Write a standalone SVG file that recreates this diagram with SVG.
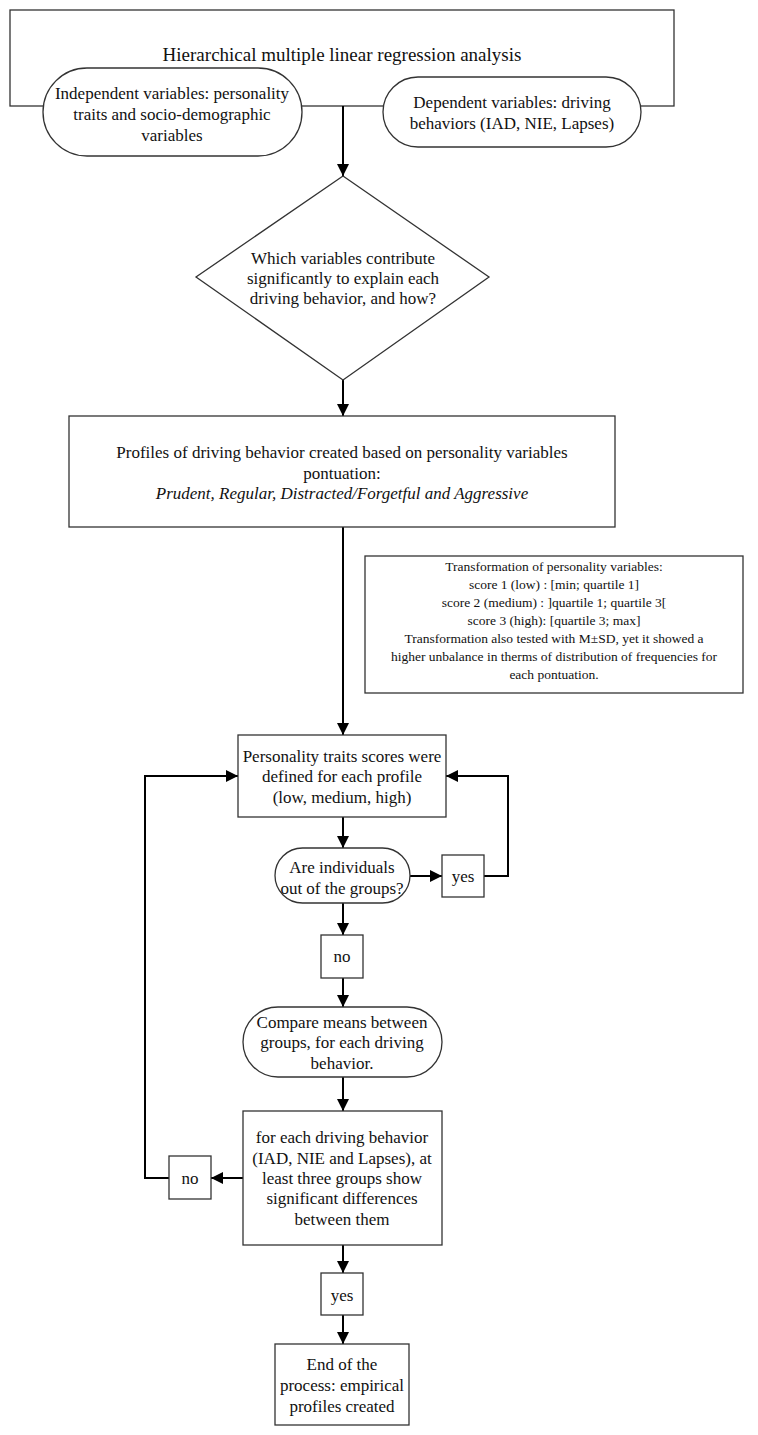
<svg xmlns="http://www.w3.org/2000/svg" width="758" height="1435" viewBox="0 0 758 1435" font-family="Liberation Serif, Times New Roman, serif">
<defs>
<marker id="ah" viewBox="0 0 12 12" refX="12" refY="6" markerWidth="12" markerHeight="12" markerUnits="userSpaceOnUse" orient="auto">
<path d="M0,0 L12,6 L0,12 Z" fill="#000"/>
</marker>
</defs>
<style>
.box{fill:#fff;stroke:#333;stroke-width:1.3}
.con{fill:none;stroke:#000;stroke-width:2}
.arr{marker-end:url(#ah)}
text{font-family:'Liberation Serif','Times New Roman',serif;fill:#111;text-anchor:middle;dominant-baseline:central}
.t15{font-size:17px}
.t16{font-size:17px}
.t17{font-size:19px}
.t13{font-size:13.5px}
.it{font-style:italic}
</style>
<rect width="758" height="1435" fill="#fff"/>
<g id="regression">
<rect class="box" x="10" y="10" width="664" height="96"/>
<text class="t17" x="342" y="54">Hierarchical multiple linear regression analysis</text>
</g>
<g id="connectors">
<line class="con arr" x1="343" y1="106" x2="343" y2="176"/>
<line class="con arr" x1="343" y1="380" x2="343" y2="416"/>
<line class="con arr" x1="343" y1="527" x2="343" y2="735"/>
<line class="con arr" x1="343" y1="817" x2="343" y2="848"/>
<line class="con arr" x1="410" y1="876" x2="442" y2="876"/>
<polyline class="con arr" points="484,876 508,876 508,776 446,776"/>
<line class="con arr" x1="343" y1="903" x2="343" y2="935"/>
<line class="con arr" x1="343" y1="978" x2="343" y2="1007"/>
<line class="con arr" x1="343" y1="1077" x2="343" y2="1111"/>
<line class="con arr" x1="243" y1="1178" x2="211" y2="1178"/>
<polyline class="con arr" points="169,1178 145,1178 145,776 238,776"/>
<line class="con arr" x1="343" y1="1245" x2="343" y2="1273"/>
<line class="con arr" x1="343" y1="1315" x2="343" y2="1344"/>
</g>
<g id="independent">
<rect class="box" x="43" y="68" width="259" height="88" rx="44" ry="44"/>
<text class="t15" x="172" y="93">Independent variables: personality</text>
<text class="t15" x="172" y="114">traits and socio-demographic</text>
<text class="t15" x="172" y="135">variables</text>
</g>
<g id="dependent">
<rect class="box" x="383" y="77" width="258" height="70" rx="35" ry="35"/>
<text class="t15" x="512" y="102">Dependent variables: driving</text>
<text class="t15" x="512" y="123">behaviors (IAD, NIE, Lapses)</text>
</g>
<g id="question">
<polygon class="box" points="343,176 489,277 343,380 196,277"/>
<text class="t16" x="343" y="258">Which variables contribute</text>
<text class="t16" x="343" y="278">significantly to explain each</text>
<text class="t16" x="343" y="298">driving behavior, and how?</text>
</g>
<g id="profiles">
<rect class="box" x="69" y="416" width="546" height="111"/>
<text class="t15" x="342" y="452">Profiles of driving behavior created based on  personality variables</text>
<text class="t15" x="342" y="473">pontuation:</text>
<text class="t15 it" x="342" y="493">Prudent, Regular, Distracted/Forgetful and Aggressive</text>
</g>
<g id="transformation">
<rect class="box" x="365" y="556" width="378" height="137"/>
<text class="t13" x="554" y="566">Transformation of personality variables:</text>
<text class="t13" x="554" y="584">score 1 (low) : [min; quartile 1]</text>
<text class="t13" x="554" y="602">score 2 (medium) : ]quartile 1; quartile 3[</text>
<text class="t13" x="554" y="620">score 3 (high): [quartile 3; max]</text>
<text class="t13" x="554" y="638">Transformation also tested with M±SD, yet it showed a</text>
<text class="t13" x="554" y="656">higher unbalance in therms of distribution of frequencies for</text>
<text class="t13" x="554" y="674">each pontuation.</text>
</g>
<g id="scores">
<rect class="box" x="238" y="735" width="208" height="82"/>
<text class="t16" x="342" y="756">Personality traits scores were</text>
<text class="t16" x="342" y="776">defined for each profile</text>
<text class="t16" x="342" y="797">(low, medium, high)</text>
</g>
<g id="outside">
<rect class="box" x="275" y="848" width="135" height="55" rx="27.5" ry="27.5"/>
<text class="t16" x="342" y="867">Are individuals</text>
<text class="t16" x="342" y="888">out of the groups?</text>
</g>
<g id="yes1">
<rect class="box" x="442" y="855" width="42" height="42"/>
<text class="t16" x="463" y="876">yes</text>
</g>
<g id="no1">
<rect class="box" x="321" y="935" width="42" height="43"/>
<text class="t16" x="342" y="956">no</text>
</g>
<g id="compare">
<rect class="box" x="243" y="1007" width="199" height="70" rx="35" ry="35"/>
<text class="t16" x="342" y="1022">Compare means between</text>
<text class="t16" x="342" y="1042">groups, for each driving</text>
<text class="t16" x="342" y="1063">behavior.</text>
</g>
<g id="differences">
<rect class="box" x="243" y="1111" width="199" height="134"/>
<text class="t16" x="342" y="1137">for each driving behavior</text>
<text class="t16" x="342" y="1158">(IAD, NIE and Lapses), at</text>
<text class="t16" x="342" y="1178">least three groups show</text>
<text class="t16" x="342" y="1198">significant differences</text>
<text class="t16" x="342" y="1219">between them</text>
</g>
<g id="no2">
<rect class="box" x="169" y="1156" width="42" height="43"/>
<text class="t16" x="190" y="1178">no</text>
</g>
<g id="yes2">
<rect class="box" x="321" y="1273" width="42" height="42"/>
<text class="t16" x="342" y="1295">yes</text>
</g>
<g id="end">
<rect class="box" x="275" y="1344" width="134" height="81"/>
<text class="t16" x="342" y="1364">End of the</text>
<text class="t16" x="342" y="1385">process: empirical</text>
<text class="t16" x="342" y="1406">profiles created</text>
</g>
</svg>
